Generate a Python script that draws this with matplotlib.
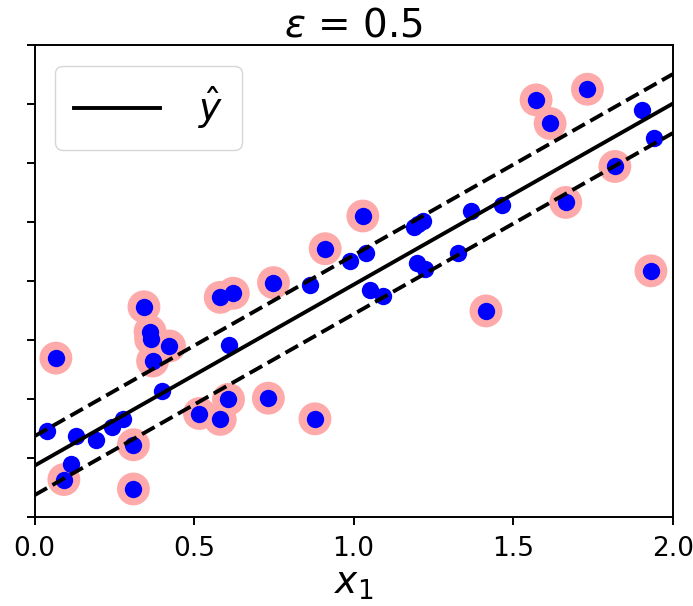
import numpy as np
import matplotlib
matplotlib.use("Agg")
import matplotlib.pyplot as plt

# Data points
x_vals = [0.067, 0.040, 0.130, 0.194, 0.244, 0.278, 0.115, 0.092, 0.310, 0.310,
          0.343, 0.362, 0.364, 0.423, 0.370, 0.399, 0.609, 0.517, 0.608, 0.582,
          0.733, 0.879, 0.582, 0.623, 0.749, 0.863, 0.911, 0.989, 1.029, 1.039,
          1.189, 1.217, 1.368, 1.464, 1.572, 1.616, 1.733, 1.903, 1.942, 1.819,
          1.665, 1.326, 1.198, 1.224, 1.932, 1.052, 1.093, 1.415, 1.898, 1.203]
y_vals = [5.69, 4.45, 4.36, 4.30, 4.52, 4.66, 3.90, 3.63, 4.22, 3.47,
          6.56, 6.14, 6.01, 5.895, 5.64, 5.13, 5.92, 4.75, 4.99, 4.65,
          5.01, 4.66, 6.72, 6.79, 6.97, 6.93, 7.545, 7.34, 8.10, 7.47,
          7.92, 8.02, 8.19, 8.29, 10.07, 9.67, 10.25, 9.89, 9.43, 8.94,
          8.33, 7.48, 7.31, 7.20, 7.17, 6.85, 6.75, 6.49, 11.27, 7.97]
support = [1, 0, 0, 0, 0, 0, 0, 1, 1, 1,
           1, 1, 1, 1, 1, 0, 0, 1, 1, 1,
           1, 1, 1, 1, 1, 0, 1, 0, 1, 0,
           0, 0, 0, 0, 1, 1, 1, 0, 0, 1,
           1, 0, 0, 0, 1, 0, 0, 1, 1, 0]

intercept = 3.865
slope = 3.07
epsilon = 0.5
x_range = [0, 2]
y_range = [3, 11]
x_ticks = [0.0, 0.5, 1.0, 1.5, 2.0]
x_tick_labels = ["0.0", "0.5", "1.0", "1.5", "2.0"]
y_ticks = [3, 4, 5, 6, 7, 8, 9, 10, 11]

X = np.array(x_vals)
Y = np.array(y_vals)
S = np.array(support, dtype=bool)

fig = plt.figure(figsize=(6.93, 6.06), dpi=100)
ax = fig.add_axes([0.0498, 0.1474, 0.9208, 0.7783])

xs = np.linspace(x_range[0], x_range[1], 100)
yh = intercept + slope * xs
ax.plot(xs, yh, "k-", linewidth=2.8, label=r"$\hat{y}$", zorder=3)
ax.plot(xs, yh + epsilon, "k--", linewidth=2.8, zorder=3)
ax.plot(xs, yh - epsilon, "k--", linewidth=2.8, zorder=3)

ax.scatter(X[S], Y[S], s=560, facecolors="#FFAAAA", edgecolors="none", zorder=1)
ax.plot(X, Y, "o", color="blue", markersize=12.5, markeredgewidth=0, zorder=2)

ax.set_xlim(*x_range)
ax.set_ylim(*y_range)
ax.set_xticks(x_ticks)
ax.set_xticklabels(x_tick_labels)
ax.set_yticks(y_ticks)
ax.set_yticklabels([])
ax.tick_params(axis="both", labelsize=19, length=6, width=1.4)
ax.tick_params(axis="x", pad=8)
for sp in ax.spines.values():
    sp.set_linewidth(1.4)

ax.set_title(r"$\epsilon$ = " + str(epsilon), fontsize=28, pad=6)
ax.set_xlabel(r"$x_1$", fontsize=27, labelpad=3)
ax.legend(loc="upper left", fontsize=27, handlelength=2.3,
          borderpad=0.5, handletextpad=1.0, borderaxespad=0.55)

fig.savefig("out.png", dpi=100)
